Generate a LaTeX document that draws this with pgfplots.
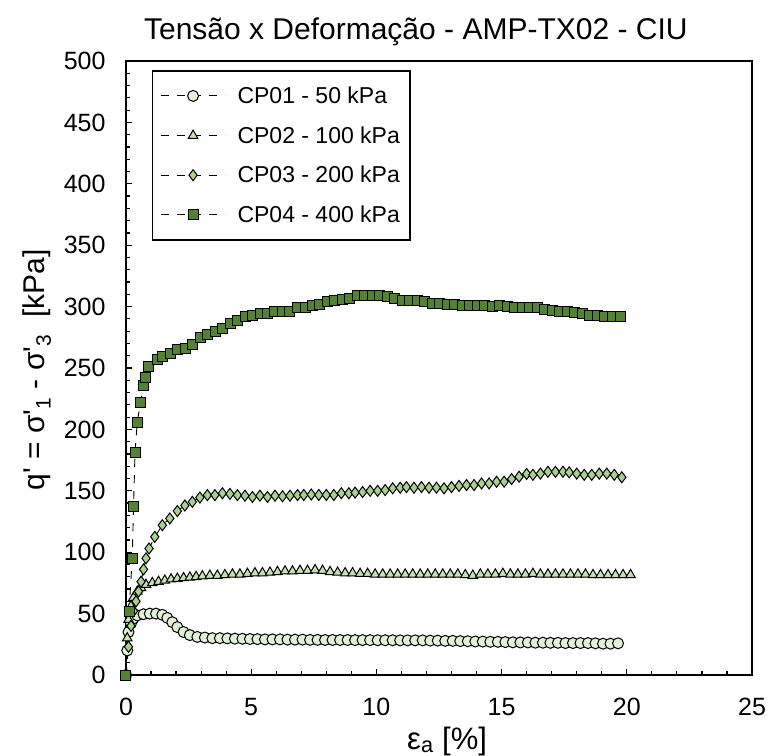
\documentclass[border=0pt]{standalone}
\usepackage{pgfplots}
\pgfplotsset{compat=1.18}
\usepackage{fontspec}
\setmainfont{Liberation Sans}
\definecolor{cA}{HTML}{E2F0D9}
\definecolor{cB}{HTML}{C5E0B4}
\definecolor{cC}{HTML}{A9D18E}
\definecolor{cD}{HTML}{548235}
\begin{document}
\begin{tikzpicture}
\path[use as bounding box] (-126bp,-81bp) rectangle (642bp,675bp);
\begin{axis}[
  at={(0,0)}, anchor=south west,
  scale only axis, width=626bp, height=614bp,
  xmin=0, xmax=25, ymin=0, ymax=500,
  xtick={0,5,...,25}, ytick={0,50,...,500},
  minor x tick num=4, minor y tick num=4,
  xtick pos=bottom, ytick pos=left, tick align=inside,
  major tick length=6bp, minor tick length=4bp,
  every tick/.style={black, line width=1.2bp},
  axis line style={black, line width=1.5bp},
  clip=false,
  /pgf/number format/assume math mode=true,
  tick label style={font=\fontsize{25bp}{29bp}\selectfont},
  xticklabel style={yshift=-20bp},
  yticklabel style={xshift=-17bp},
  title={Tensão x Deformação - AMP-TX02 - CIU},
  title style={at={(0.463,1)}, anchor=base, yshift=16bp, font=\fontsize{30bp}{35bp}\selectfont},
  xlabel={ε\textsubscript{a} [\%]},
  xlabel style={at={(0.513,0)}, anchor=base, yshift=-74bp, font=\fontsize{31bp}{36bp}\selectfont},
  ylabel={q\textquotesingle{} = σ\textquotesingle\textsubscript{1} - σ\textquotesingle\textsubscript{3}~ [kPa]},
  ylabel style={at={(0,0.497)}, anchor=center, yshift=89bp, font=\fontsize{30bp}{35bp}\selectfont},
  legend style={at={(0.0415,0.985)}, anchor=north west, draw=black, line width=1.3bp,
    font=\fontsize{23bp}{27bp}\selectfont, inner xsep=8bp, inner ysep=14bp,
    row sep=17.5bp, /tikz/every odd column/.append style={column sep=10bp}},
  legend cell align=left,
  legend image code/.code={\draw[mark repeat=2,mark phase=2,#1] plot coordinates {(0bp,0bp) (32bp,0bp) (64bp,0bp)};},
  every axis plot/.append style={black, line width=0.9bp, dash pattern=on 8bp off 8bp},
]
\addplot[mark=*, mark size=5.5bp, mark options={solid, fill=cA, draw=black, line width=1bp}] coordinates {
(0,0) (0.05,20) (0.1,35) (0.2,42) (0.3,46) (0.45,48.5) (0.7,49.5) (0.95,50) (1.2,50) (1.45,49)
(1.65,46.5) (1.85,43) (2.05,39) (2.3,35) (2.55,32.5) (2.85,31) (3.15,30.5) (3.45,30) (3.75,30)
(4.05,29.8) (4.35,29.6) (4.65,29.5) (4.95,29.3) (5.25,29.2) (5.55,29) (5.85,29) (6.15,29) (6.45,28.8)
(6.75,28.8) (7.05,28.8) (7.35,28.6) (7.65,28.6) (7.95,28.5) (8.25,28.5) (8.55,28.5) (8.85,28.5)
(9.15,28.4) (9.45,28.4) (9.75,28.4) (10.05,28.3) (10.35,28.3) (10.65,28.3) (10.95,28.2) (11.25,28.2)
(11.55,28.2) (11.85,28.2) (12.15,28) (12.45,28) (12.75,27.8) (13.05,27.8) (13.35,27.6) (13.65,27.5)
(13.95,27.3) (14.25,27.2) (14.55,27) (14.85,27) (15.15,26.8) (15.45,26.6) (15.75,26.5) (16.05,26.5)
(16.35,26.3) (16.65,26.3) (16.95,26.2) (17.25,26.2) (17.55,26) (17.85,26) (18.15,26) (18.45,26)
(18.75,25.8) (19.05,25.5) (19.35,25.5) (19.65,25.8)
};
\addlegendentry{CP01 - 50 kPa}
\addplot[mark=triangle*, mark size=5.5bp, mark options={solid, fill=cB, draw=black, line width=1bp}] coordinates {
(0,0) (0.05,30) (0.1,45) (0.2,56) (0.3,63) (0.45,68) (0.6,71) (0.8,73.5) (1.05,75) (1.3,76) (1.55,77)
(1.8,78) (2.05,78.5) (2.3,79) (2.55,79.5) (2.8,80) (3.05,80.5) (3.35,81) (3.65,81) (3.95,81.5)
(4.25,82) (4.55,82) (4.85,82.5) (5.15,83) (5.45,83) (5.75,83.5) (6.05,84) (6.35,84.5) (6.65,84.5)
(6.95,85) (7.25,85) (7.55,85.5) (7.85,85) (8.15,84) (8.45,83.5) (8.75,83) (9.05,83) (9.35,82.5)
(9.65,82.5) (9.95,82) (10.25,82) (10.55,82) (10.85,82) (11.15,82) (11.45,82) (11.75,82) (12.05,82)
(12.35,82) (12.65,82) (12.95,82) (13.25,82) (13.55,81.5) (13.85,81) (14.15,82) (14.45,82) (14.75,82)
(15.05,82.5) (15.35,82) (15.65,82) (15.95,82) (16.25,82.5) (16.55,82) (16.85,82) (17.15,82) (17.45,82)
(17.75,82) (18.05,82) (18.35,82) (18.65,81.5) (18.95,81.5) (19.25,81.5) (19.55,81.5) (19.85,81.5) (20.15,81.5)
};
\addlegendentry{CP02 - 100 kPa}
\addplot[mark=diamond*, mark size=5.5bp, mark options={solid, fill=cC, draw=black, line width=1bp}] coordinates {
(0,0) (0.1,23) (0.2,40) (0.3,52) (0.4,60) (0.5,68) (0.6,76) (0.7,86) (0.8,95) (0.92,103) (1.15,112.5)
(1.45,122) (1.75,127.5) (2.05,133.5) (2.35,138) (2.65,141) (2.95,144.5) (3.25,146.5) (3.55,146.5)
(3.85,148) (4.15,147.5) (4.45,146.5) (4.75,146) (5.05,145) (5.35,146) (5.65,145) (5.95,146) (6.25,145.5)
(6.55,146) (6.85,146.5) (7.1,146.6) (7.4,147) (7.7,146.6) (8.0,146.6) (8.3,146.6) (8.6,148) (8.9,148)
(9.15,148.5) (9.45,149) (9.75,150) (10.05,150) (10.35,150.6) (10.65,152) (10.95,152.5) (11.2,153)
(11.5,152.5) (11.8,153) (12.1,152.5) (12.4,152.5) (12.7,152) (13.0,153) (13.3,154) (13.6,154.7)
(13.9,154.7) (14.2,156) (14.5,156) (14.8,157.4) (15.1,157.4) (15.4,159.6) (15.7,161.5) (16.0,163.7)
(16.25,163) (16.55,164) (16.85,165.5) (17.15,165.5) (17.45,165.5) (17.7,165) (18.0,164) (18.3,163)
(18.6,163) (18.9,164) (19.2,164) (19.5,163) (19.8,161)
};
\addlegendentry{CP03 - 200 kPa}
\addplot[mark=square*, mark size=5bp, mark options={solid, fill=cD, draw=black, line width=1bp}] coordinates {
(0,0) (0.12,52) (0.25,95) (0.3,137) (0.36,181) (0.45,206) (0.58,222) (0.68,236) (0.78,242) (0.9,251)
(1.25,257) (1.47,259) (1.78,262) (2.07,265) (2.38,266) (2.67,269.5) (2.98,274.7) (3.27,277) (3.58,279.6)
(3.87,282) (4.18,286) (4.47,289) (4.78,292) (5.07,293) (5.38,294) (5.66,294) (5.94,296) (6.24,296)
(6.53,296) (6.84,299) (7.15,299) (7.44,301) (7.73,302) (8.04,304) (8.33,305) (8.64,306) (8.93,307)
(9.24,309) (9.53,309) (9.84,309) (10.13,309) (10.44,308) (10.73,307) (11.04,305) (11.33,305) (11.64,305)
(11.93,304) (12.24,302.5) (12.53,302.5) (12.84,302) (13.13,302) (13.44,301) (13.73,301) (14.04,301)
(14.33,301) (14.64,300) (14.93,301) (15.24,300) (15.53,299) (15.84,299) (16.13,299) (16.44,299)
(16.73,298) (17.03,297) (17.33,296) (17.63,296) (17.93,295) (18.23,294) (18.53,293) (18.83,293)
(19.12,292) (19.43,292) (19.75,292)
};
\addlegendentry{CP04 - 400 kPa}
\end{axis}
\end{tikzpicture}
\end{document}
